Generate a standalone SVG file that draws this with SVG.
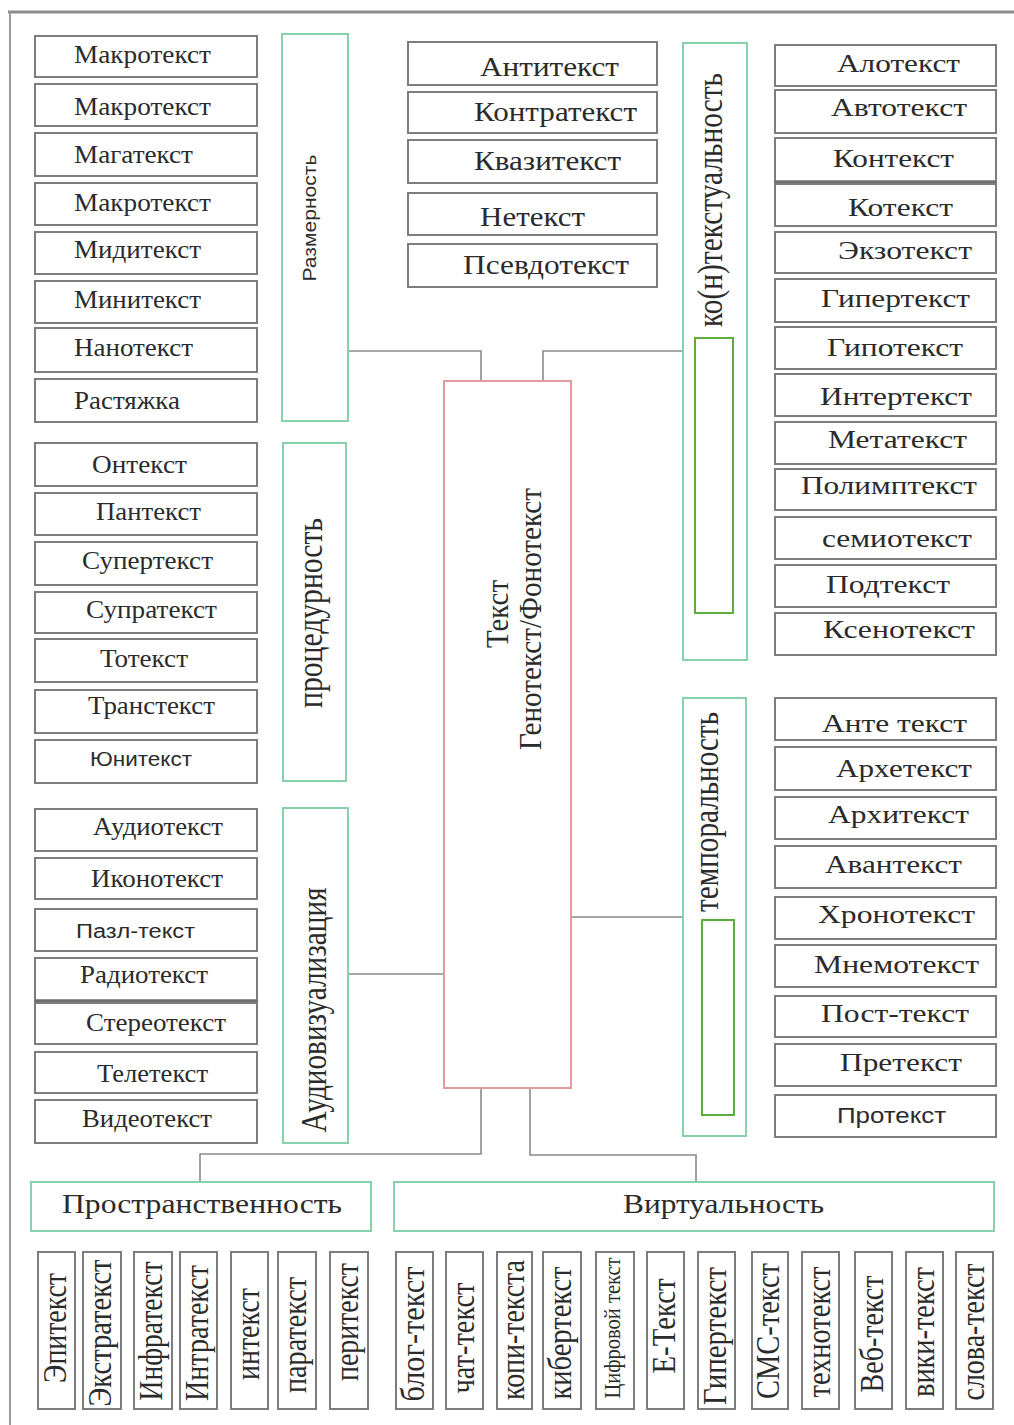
<svg xmlns="http://www.w3.org/2000/svg" width="1014" height="1425" viewBox="0 0 1014 1425">
<style>
.b{fill:#fff;stroke:#7d7d7d;stroke-width:2}
.g{fill:none;stroke:#86d3ab;stroke-width:2}
.gi{fill:none;stroke:#5cae3c;stroke-width:2}
.r{fill:none;stroke:#e39a9a;stroke-width:2}
.c{fill:none;stroke:#8a8a8a;stroke-width:1.6}
.thick{stroke:#6f6f6f;stroke-width:3.5}
text{fill:#2b2b2b;font-family:"Liberation Serif","Times New Roman",serif}
.s25{font-size:25px}.s27{font-size:27px}.s26{font-size:26px}.s28{font-size:28px}
.sans{font-family:"Liberation Sans",Arial,sans-serif}
.v{font-size:28px}
</style>
<rect width="1014" height="1425" fill="#fff"/>
<line x1="8" y1="12" x2="1014" y2="12" stroke="#8c8c8c" stroke-width="3"/>
<line x1="10" y1="12" x2="10" y2="1425" stroke="#9a9a9a" stroke-width="2"/>

<g id="connectors">
<path class="c" d="M348,351 H481 V381"/>
<path class="c" d="M543,381 V351 H683"/>
<path class="c" d="M348,974 H444"/>
<path class="c" d="M571,917 H683"/>
<path class="c" d="M481,1088 V1154 H200 V1182"/>
<path class="c" d="M530,1088 V1155 H696 V1182"/>
</g>

<g id="center"><rect class="r" x="444" y="381" width="127" height="707"/>
<text font-size="29" text-anchor="middle" textLength="68" lengthAdjust="spacingAndGlyphs" transform="translate(508,614) scale(1.1,1) rotate(-90)">Текст</text>
<text font-size="29" text-anchor="middle" textLength="262" lengthAdjust="spacingAndGlyphs" transform="translate(541,619) scale(1.1,1) rotate(-90)">Генотекст/Фонотекст</text></g>

<g id="razmernost"><rect class="g" x="282" y="34" width="66" height="387"/>
<text class="sans" font-size="18" text-anchor="middle" textLength="127" lengthAdjust="spacingAndGlyphs" transform="translate(316,218) rotate(-90)">Размерность</text></g>
<g id="procedurnost"><rect class="g" x="283" y="443" width="63" height="338"/>
<text font-size="29" text-anchor="middle" textLength="190" lengthAdjust="spacingAndGlyphs" transform="translate(322,613) scale(1.2,1) rotate(-90)">процедурность</text></g>
<g id="audiovis"><rect class="g" x="283" y="808" width="65" height="335"/>
<text font-size="29" text-anchor="middle" textLength="245" lengthAdjust="spacingAndGlyphs" transform="translate(326,1010) scale(1.2,1) rotate(-90)">Аудиовизуализация</text></g>
<g id="kontekst"><rect class="g" x="683" y="43" width="64" height="617"/><rect class="gi" x="695" y="338" width="38" height="275"/>
<text font-size="29" text-anchor="middle" textLength="254" lengthAdjust="spacingAndGlyphs" transform="translate(722,200) scale(1.2,1) rotate(-90)">ко(н)текстуальность</text></g>
<g id="temporal"><rect class="g" x="683" y="698" width="63" height="438"/><rect class="gi" x="702" y="920" width="32" height="195"/>
<text font-size="29" text-anchor="middle" textLength="200" lengthAdjust="spacingAndGlyphs" transform="translate(718,812) scale(1.2,1) rotate(-90)">темпоральность</text></g>

<g id="left-size" class="s25">
<g id="n1"><rect class="b" x="35" y="36" width="222" height="41"/><text x="74" y="63" textLength="137" lengthAdjust="spacingAndGlyphs">Макротекст</text></g>
<g id="n2"><rect class="b" x="35" y="84" width="222" height="42"/><text x="74" y="115" textLength="137" lengthAdjust="spacingAndGlyphs">Макротекст</text></g>
<g id="n3"><rect class="b" x="35" y="133" width="222" height="43"/><text x="74" y="163" textLength="119" lengthAdjust="spacingAndGlyphs">Магатекст</text></g>
<g id="n4"><rect class="b" x="35" y="183" width="222" height="42"/><text x="74" y="211" textLength="137" lengthAdjust="spacingAndGlyphs">Макротекст</text></g>
<g id="n5"><rect class="b" x="35" y="232" width="222" height="42"/><text x="74" y="258" textLength="127" lengthAdjust="spacingAndGlyphs">Мидитекст</text></g>
<g id="n6"><rect class="b" x="35" y="281" width="222" height="42"/><text x="74" y="308" textLength="127" lengthAdjust="spacingAndGlyphs">Минитекст</text></g>
<g id="n7"><rect class="b" x="35" y="328" width="222" height="44"/><text x="74" y="356" textLength="119" lengthAdjust="spacingAndGlyphs">Нанотекст</text></g>
<g id="n8"><rect class="b" x="35" y="379" width="222" height="43"/><text x="74" y="409" textLength="106" lengthAdjust="spacingAndGlyphs">Растяжка</text></g>
</g>

<g id="left-proc" class="s25">
<g id="n9"><rect class="b" x="35" y="443" width="222" height="43"/><text x="92" y="473" textLength="95" lengthAdjust="spacingAndGlyphs">Онтекст</text></g>
<g id="n10"><rect class="b" x="35" y="493" width="222" height="42"/><text x="96" y="520" textLength="105" lengthAdjust="spacingAndGlyphs">Пантекст</text></g>
<g id="n11"><rect class="b" x="35" y="542" width="222" height="43"/><text x="82" y="569" textLength="131" lengthAdjust="spacingAndGlyphs">Супертекст</text></g>
<g id="n12"><rect class="b" x="35" y="592" width="222" height="41"/><text x="86" y="618" textLength="131" lengthAdjust="spacingAndGlyphs">Супратекст</text></g>
<g id="n13"><rect class="b" x="35" y="639" width="222" height="43"/><text x="100" y="667" textLength="88" lengthAdjust="spacingAndGlyphs">Тотекст</text></g>
<g id="n14"><rect class="b" x="35" y="690" width="222" height="43"/><text x="88" y="714" textLength="127" lengthAdjust="spacingAndGlyphs">Транстекст</text></g>
<g id="n15"><rect class="b" x="35" y="740" width="222" height="43"/><text class="sans" font-size="20" x="90" y="766" textLength="102" lengthAdjust="spacingAndGlyphs">Юнитекст</text></g>
</g>

<g id="left-audio" class="s25">
<g id="n16"><rect class="b" x="35" y="809" width="222" height="42"/><text x="93" y="835" textLength="130" lengthAdjust="spacingAndGlyphs">Аудиотекст</text></g>
<g id="n17"><rect class="b" x="35" y="858" width="222" height="41"/><text x="91" y="887" textLength="132" lengthAdjust="spacingAndGlyphs">Иконотекст</text></g>
<g id="n18"><rect class="b" x="35" y="909" width="222" height="42"/><text class="sans" font-size="20" x="76" y="938" textLength="119" lengthAdjust="spacingAndGlyphs">Пазл-текст</text></g>
<g id="n19"><rect class="b" x="35" y="958" width="222" height="43"/><line class="thick" x1="35" y1="1001" x2="257" y2="1001"/><text x="80" y="983" textLength="128" lengthAdjust="spacingAndGlyphs">Радиотекст</text></g>
<g id="n20"><rect class="b" x="35" y="1003" width="222" height="41"/><text x="86" y="1031" textLength="140" lengthAdjust="spacingAndGlyphs">Стереотекст</text></g>
<g id="n21"><rect class="b" x="35" y="1052" width="222" height="41"/><text x="97" y="1082" textLength="111" lengthAdjust="spacingAndGlyphs">Телетекст</text></g>
<g id="n22"><rect class="b" x="35" y="1100" width="222" height="43"/><text x="82" y="1127" textLength="130" lengthAdjust="spacingAndGlyphs">Видеотекст</text></g>
</g>

<g id="middle" class="s27">
<g id="n23"><rect class="b" x="408" y="42" width="249" height="43"/><text x="480" y="76" textLength="139" lengthAdjust="spacingAndGlyphs">Антитекст</text></g>
<g id="n24"><rect class="b" x="408" y="92" width="249" height="41"/><text x="474" y="121" textLength="163" lengthAdjust="spacingAndGlyphs">Контратекст</text></g>
<g id="n25"><rect class="b" x="408" y="140" width="249" height="43"/><text x="474" y="170" textLength="147" lengthAdjust="spacingAndGlyphs">Квазитекст</text></g>
<g id="n26"><rect class="b" x="408" y="193" width="249" height="42"/><text x="480" y="226" textLength="105" lengthAdjust="spacingAndGlyphs">Нетекст</text></g>
<g id="n27"><rect class="b" x="408" y="244" width="249" height="43"/><text x="463" y="274" textLength="166" lengthAdjust="spacingAndGlyphs">Псевдотекст</text></g>
</g>

<g id="right-kon" class="s26">
<g id="n28"><rect class="b" x="775" y="45" width="221" height="41"/><text x="837" y="72" textLength="123" lengthAdjust="spacingAndGlyphs">Алотекст</text></g>
<g id="n29"><rect class="b" x="775" y="90" width="221" height="43"/><text x="831" y="116" textLength="136" lengthAdjust="spacingAndGlyphs">Автотекст</text></g>
<g id="n30"><rect class="b" x="775" y="138" width="221" height="44"/><line class="thick" x1="775" y1="182" x2="996" y2="182"/><text x="833" y="167" textLength="121" lengthAdjust="spacingAndGlyphs">Контекст</text></g>
<g id="n31"><rect class="b" x="775" y="184" width="221" height="42"/><text x="848" y="216" textLength="105" lengthAdjust="spacingAndGlyphs">Котекст</text></g>
<g id="n32"><rect class="b" x="775" y="232" width="221" height="41"/><text x="838" y="259" textLength="134" lengthAdjust="spacingAndGlyphs">Экзотекст</text></g>
<g id="n33"><rect class="b" x="775" y="279" width="221" height="43"/><text x="821" y="307" textLength="149" lengthAdjust="spacingAndGlyphs">Гипертекст</text></g>
<g id="n34"><rect class="b" x="775" y="327" width="221" height="42"/><text x="827" y="356" textLength="136" lengthAdjust="spacingAndGlyphs">Гипотекст</text></g>
<g id="n35"><rect class="b" x="775" y="374" width="221" height="42"/><text x="820" y="405" textLength="152" lengthAdjust="spacingAndGlyphs">Интертекст</text></g>
<g id="n36"><rect class="b" x="775" y="422" width="221" height="42"/><text x="828" y="448" textLength="139" lengthAdjust="spacingAndGlyphs">Метатекст</text></g>
<g id="n37"><rect class="b" x="775" y="469" width="221" height="41"/><text x="801" y="494" textLength="176" lengthAdjust="spacingAndGlyphs">Полимптекст</text></g>
<g id="n38"><rect class="b" x="775" y="517" width="221" height="42"/><text x="822" y="547" textLength="150" lengthAdjust="spacingAndGlyphs">семиотекст</text></g>
<g id="n39"><rect class="b" x="775" y="565" width="221" height="42"/><text x="826" y="593" textLength="124" lengthAdjust="spacingAndGlyphs">Подтекст</text></g>
<g id="n40"><rect class="b" x="775" y="613" width="221" height="42"/><text x="823" y="638" textLength="152" lengthAdjust="spacingAndGlyphs">Ксенотекст</text></g>
</g>

<g id="right-temp" class="s26">
<g id="n41"><rect class="b" x="775" y="698" width="221" height="42"/><text x="822" y="732" textLength="145" lengthAdjust="spacingAndGlyphs">Анте текст</text></g>
<g id="n42"><rect class="b" x="775" y="747" width="221" height="43"/><text x="836" y="777" textLength="136" lengthAdjust="spacingAndGlyphs">Архетекст</text></g>
<g id="n43"><rect class="b" x="775" y="797" width="221" height="42"/><text x="828" y="823" textLength="141" lengthAdjust="spacingAndGlyphs">Архитекст</text></g>
<g id="n44"><rect class="b" x="775" y="846" width="221" height="42"/><text x="825" y="873" textLength="137" lengthAdjust="spacingAndGlyphs">Авантекст</text></g>
<g id="n45"><rect class="b" x="775" y="897" width="221" height="42"/><text x="818" y="923" textLength="157" lengthAdjust="spacingAndGlyphs">Хронотекст</text></g>
<g id="n46"><rect class="b" x="775" y="945" width="221" height="42"/><text x="814" y="973" textLength="165" lengthAdjust="spacingAndGlyphs">Мнемотекст</text></g>
<g id="n47"><rect class="b" x="775" y="996" width="221" height="41"/><text x="821" y="1022" textLength="148" lengthAdjust="spacingAndGlyphs">Пост-текст</text></g>
<g id="n48"><rect class="b" x="775" y="1044" width="221" height="42"/><text x="840" y="1071" textLength="122" lengthAdjust="spacingAndGlyphs">Претекст</text></g>
<g id="n49"><rect class="b" x="775" y="1095" width="221" height="42"/><text class="sans" font-size="22" x="837" y="1123" textLength="109" lengthAdjust="spacingAndGlyphs">Протекст</text></g>
</g>

<g id="prostranstvennost"><rect class="g" x="31" y="1182" width="340" height="49"/><text class="s28" x="62" y="1213" textLength="280" lengthAdjust="spacingAndGlyphs">Пространственность</text></g>
<g id="virtualnost"><rect class="g" x="394" y="1182" width="600" height="49"/><text class="s28" x="623" y="1213" textLength="201" lengthAdjust="spacingAndGlyphs">Виртуальность</text></g>

<g id="bottom-left" class="v">
<g id="b1"><rect class="b" x="38" y="1252" width="37" height="157"/><text text-anchor="middle" textLength="110" lengthAdjust="spacingAndGlyphs" transform="translate(65.5,1328) scale(1.2,1) rotate(-90)">Эпитекст</text></g>
<g id="b2"><rect class="b" x="83" y="1252" width="38" height="157"/><text text-anchor="middle" textLength="147" lengthAdjust="spacingAndGlyphs" transform="translate(111,1333) scale(1.2,1) rotate(-90)">Экстратекст</text></g>
<g id="b3"><rect class="b" x="134" y="1252" width="38" height="157"/><text text-anchor="middle" textLength="139" lengthAdjust="spacingAndGlyphs" transform="translate(162,1331) scale(1.2,1) rotate(-90)">Инфратекст</text></g>
<g id="b4"><rect class="b" x="180" y="1252" width="37" height="157"/><text text-anchor="middle" textLength="136" lengthAdjust="spacingAndGlyphs" transform="translate(207.5,1333) scale(1.2,1) rotate(-90)">Интратекст</text></g>
<g id="b5"><rect class="b" x="231" y="1252" width="37" height="157"/><text text-anchor="middle" textLength="92" lengthAdjust="spacingAndGlyphs" transform="translate(258.5,1334) scale(1.2,1) rotate(-90)">интекст</text></g>
<g id="b6"><rect class="b" x="278" y="1252" width="38" height="157"/><text text-anchor="middle" textLength="116" lengthAdjust="spacingAndGlyphs" transform="translate(306,1335) scale(1.2,1) rotate(-90)">паратекст</text></g>
<g id="b7"><rect class="b" x="330" y="1252" width="38" height="157"/><text text-anchor="middle" textLength="118" lengthAdjust="spacingAndGlyphs" transform="translate(358,1322) scale(1.2,1) rotate(-90)">перитекст</text></g>
</g>

<g id="bottom-right" class="v">
<g id="b8"><rect class="b" x="396" y="1252" width="37" height="157"/><text text-anchor="middle" textLength="135" lengthAdjust="spacingAndGlyphs" transform="translate(423.5,1334) scale(1.2,1) rotate(-90)">блог-текст</text></g>
<g id="b9"><rect class="b" x="446" y="1252" width="37" height="157"/><text text-anchor="middle" textLength="111" lengthAdjust="spacingAndGlyphs" transform="translate(473.5,1338) scale(1.2,1) rotate(-90)">чат-текст</text></g>
<g id="b10"><rect class="b" x="497" y="1252" width="35" height="157"/><text text-anchor="middle" textLength="140" lengthAdjust="spacingAndGlyphs" transform="translate(523.5,1330) scale(1.2,1) rotate(-90)">копи-текста</text></g>
<g id="b11"><rect class="b" x="543" y="1252" width="38" height="157"/><text text-anchor="middle" textLength="133" lengthAdjust="spacingAndGlyphs" transform="translate(571,1333) scale(1.2,1) rotate(-90)">кибертекст</text></g>
<g id="b12"><rect class="b" x="596" y="1252" width="38" height="157"/><text font-size="20" text-anchor="middle" textLength="141" lengthAdjust="spacingAndGlyphs" transform="translate(620,1328) scale(1.2,1) rotate(-90)">Цифровой текст</text></g>
<g id="b13"><rect class="b" x="647" y="1252" width="37" height="157"/><text text-anchor="middle" textLength="95" lengthAdjust="spacingAndGlyphs" transform="translate(674.5,1326) scale(1.2,1) rotate(-90)">Е-Текст</text></g>
<g id="b14"><rect class="b" x="698" y="1252" width="37" height="157"/><text text-anchor="middle" textLength="138" lengthAdjust="spacingAndGlyphs" transform="translate(725.5,1336) scale(1.2,1) rotate(-90)">Гипертекст</text></g>
<g id="b15"><rect class="b" x="752" y="1252" width="36" height="157"/><text text-anchor="middle" textLength="136" lengthAdjust="spacingAndGlyphs" transform="translate(779,1331) scale(1.2,1) rotate(-90)">СМС-текст</text></g>
<g id="b16"><rect class="b" x="802" y="1252" width="37" height="157"/><text text-anchor="middle" textLength="131" lengthAdjust="spacingAndGlyphs" transform="translate(829.5,1332) scale(1.2,1) rotate(-90)">технотекст</text></g>
<g id="b17"><rect class="b" x="855" y="1252" width="37" height="157"/><text text-anchor="middle" textLength="117" lengthAdjust="spacingAndGlyphs" transform="translate(882.5,1334) scale(1.2,1) rotate(-90)">Веб-текст</text></g>
<g id="b18"><rect class="b" x="906" y="1252" width="37" height="157"/><text text-anchor="middle" textLength="130" lengthAdjust="spacingAndGlyphs" transform="translate(933.5,1332) scale(1.2,1) rotate(-90)">вики-текст</text></g>
<g id="b19"><rect class="b" x="956" y="1252" width="37" height="157"/><text text-anchor="middle" textLength="137" lengthAdjust="spacingAndGlyphs" transform="translate(983.5,1332) scale(1.2,1) rotate(-90)">слова-текст</text></g>
</g>
</svg>
